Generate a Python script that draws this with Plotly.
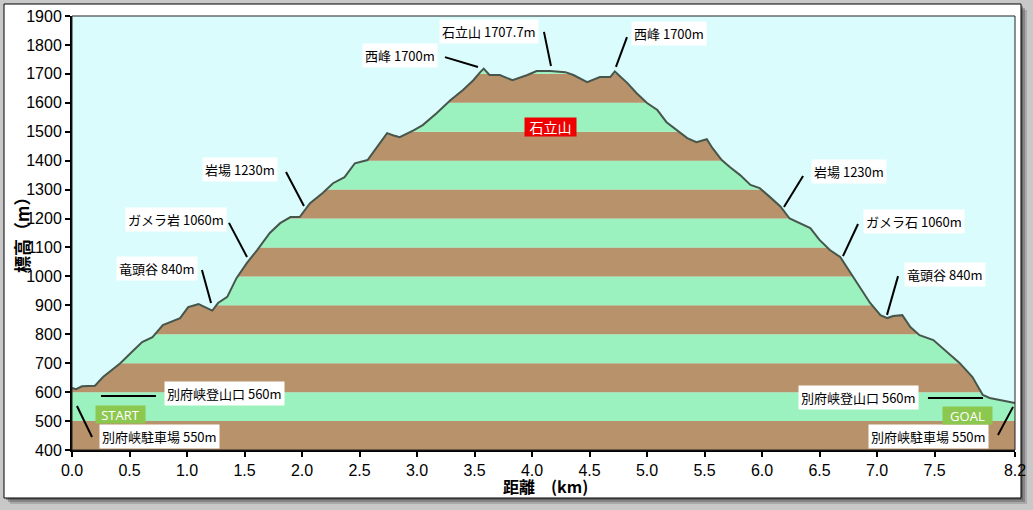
import plotly.graph_objects as go

# ---------------- data ----------------
dist_km = [0.00, 0.035, 0.087, 0.20, 0.27, 0.42, 0.52, 0.61, 0.70, 0.79, 0.94, 1.01, 1.10, 1.16, 1.22,
           1.27, 1.35, 1.43, 1.52, 1.61, 1.72, 1.81, 1.90, 1.98, 2.07, 2.18, 2.27, 2.37, 2.46, 2.57,
           2.65, 2.74, 2.79, 2.85, 2.97, 3.05, 3.17, 3.29, 3.40, 3.49, 3.55, 3.58, 3.63, 3.72, 3.83,
           3.96, 4.04, 4.16, 4.29, 4.36, 4.48, 4.59, 4.68, 4.72, 4.83, 4.91, 5.00, 5.09, 5.17, 5.26,
           5.35, 5.43, 5.52, 5.57, 5.65, 5.72, 5.81, 5.90, 5.98, 6.07, 6.16, 6.24, 6.33, 6.42, 6.50,
           6.59, 6.68, 6.77, 6.85, 6.94, 7.03, 7.09, 7.14, 7.22, 7.29, 7.37, 7.49, 7.61, 7.72, 7.83,
           7.92, 7.98, 8.13, 8.20]
elev_m = [614, 610, 620, 622, 652, 700, 739, 773, 790, 832, 856, 894, 904, 894, 882,
          908, 929, 994, 1046, 1091, 1150, 1184, 1205, 1205, 1253, 1288, 1322, 1343, 1391, 1402,
          1447, 1495, 1488, 1481, 1505, 1523, 1564, 1609, 1644, 1678, 1706, 1718, 1696, 1696, 1678,
          1696, 1710, 1710, 1706, 1696, 1671, 1689, 1689, 1708, 1668, 1633, 1599, 1575, 1533, 1505,
          1478, 1464, 1474, 1443, 1402, 1378, 1350, 1316, 1305, 1274, 1242, 1200, 1184, 1167, 1126,
          1091, 1067, 1012, 963, 908, 866, 856, 863, 866, 825, 797, 780, 739, 700, 652,
          590, 580, 566, 562]

x_ticks = [0.0, 0.5, 1.0, 1.5, 2.0, 2.5, 3.0, 3.5, 4.0, 4.5, 5.0, 5.5, 6.0, 6.5, 7.0, 7.5, 8.2]
x_tick_labels = ["0.0", "0.5", "1.0", "1.5", "2.0", "2.5", "3.0", "3.5", "4.0", "4.5", "5.0",
                 "5.5", "6.0", "6.5", "7.0", "7.5", "8.2"]
y_ticks = list(range(400, 2000, 100))
x_title = "距離　(km)"
y_title = "標高（m）"

# point labels: text, box centre (km, m), leader line start/end (km, m)
label_texts = ["西峰 1700m", "石立山 1707.7m", "西峰 1700m", "岩場 1230m", "ガメラ岩 1060m",
               "竜頭谷 840m", "別府峡登山口 560m", "別府峡駐車場 550m",
               "岩場 1230m", "ガメラ石 1060m", "竜頭谷 840m", "別府峡登山口 560m", "別府峡駐車場 550m"]
label_x = [2.852, 3.626, 5.191, 1.461, 0.904, 0.739, 1.322, 0.757, 6.757, 7.322, 7.591, 6.843, 7.452]
label_y = [1762, 1848, 1838, 1368, 1195, 1029, 594, 448, 1361, 1191, 1008, 583, 448]
lead_x0 = [3.243, 4.104, 4.826, 1.861, 1.365, 1.130, 0.252, 0.174, 6.357, 6.835, 7.183, 7.443, 8.052]
lead_y0 = [1758, 1845, 1827, 1361, 1185, 1022, 587, 445, 1347, 1181, 1001, 580, 452]
lead_x1 = [3.530, 4.165, 4.730, 2.017, 1.522, 1.209, 0.730, 0.043, 6.191, 6.704, 7.087, 7.922, 8.183]
lead_y1 = [1724, 1727, 1724, 1243, 1067, 908, 587, 552, 1240, 1070, 867, 580, 549]

badge_texts = ["START", "GOAL"]
badge_x = [0.426, 7.783]
badge_y = [521, 518]
peak_name = "石立山"
peak_name_x = 4.157
peak_name_y = 1517

X_MIN, X_MAX = 0.0, 8.2
Y_MIN, Y_MAX = 400, 1900

# ---------------- style ----------------
SKY = "#DAFCFC"
BROWN = "#B8926A"
GREEN = "#9CF2BE"
LINE = "#46564C"
JP = "Noto Sans CJK JP"

W, H = 1033, 510
ML, MR, MT, MB = 72, 18, 16, 60
pw, ph = W - ML - MR, H - MT - MB


def px_x(p):
    return (p - ML) / pw


def px_y(p):
    return (H - MB - p) / ph


fig = go.Figure()

# base for fill (invisible)
fig.add_trace(go.Scatter(x=dist_km, y=elev_m, mode="lines", line=dict(width=0),
                         hoverinfo="skip", showlegend=False))
# sky above the profile
fig.add_trace(go.Scatter(x=dist_km, y=[Y_MAX] * len(dist_km), mode="lines", line=dict(width=0),
                         fill="tonexty", fillcolor=SKY, hoverinfo="skip", showlegend=False))
# profile line
fig.add_trace(go.Scatter(x=dist_km, y=elev_m, mode="lines", line=dict(color=LINE, width=2),
                         showlegend=False))

shapes = []
# outer frame shadow & frame
for off, op in [(6, 0.22), (4, 0.32), (2, 0.42)]:
    shapes.append(dict(type="rect", xref="paper", yref="paper",
                       x0=px_x(4 + off), x1=px_x(1021 + off), y0=px_y(498 + off), y1=px_y(4 + off),
                       fillcolor="rgba(60,60,60,%s)" % op, line=dict(width=0), layer="below"))
shapes.append(dict(type="rect", xref="paper", yref="paper",
                   x0=px_x(4), x1=px_x(1021), y0=px_y(498), y1=px_y(4),
                   fillcolor="white", line=dict(color="black", width=1), layer="below"))
shapes.append(dict(type="rect", xref="paper", yref="paper", x0=0, x1=1, y0=0, y1=1,
                   fillcolor=SKY, line=dict(width=0), layer="below"))
# elevation stripes
for i, lo in enumerate(y_ticks[:-1]):
    shapes.append(dict(type="rect", xref="paper", yref="y", x0=0, x1=1, y0=lo, y1=lo + 100,
                       fillcolor=BROWN if i % 2 == 0 else GREEN, line=dict(width=0), layer="below"))
# plot border
shapes.append(dict(type="rect", xref="paper", yref="paper", x0=0, x1=1, y0=0, y1=1,
                   line=dict(color="#222222", width=1), layer="above"))
# leader lines
for a, b, c, d in zip(lead_x0, lead_y0, lead_x1, lead_y1):
    shapes.append(dict(type="line", xref="x", yref="y", x0=a, y0=b, x1=c, y1=d,
                       line=dict(color="black", width=2), layer="above"))

annotations = []
for t, x, y in zip(label_texts, label_x, label_y):
    annotations.append(dict(x=x, y=y, xref="x", yref="y", text=t, showarrow=False,
                            bgcolor="white", borderpad=2,
                            font=dict(family=JP, size=13, color="black")))
for t, x, y in zip(badge_texts, badge_x, badge_y):
    annotations.append(dict(x=x, y=y, xref="x", yref="y", text=t, showarrow=False,
                            bgcolor="#8CC850", width=47, height=15, borderpad=1,
                            font=dict(family="Open Sans", size=13, color="white")))
annotations.append(dict(x=peak_name_x, y=peak_name_y, xref="x", yref="y", text=peak_name,
                        showarrow=False, bgcolor="#EE0000", width=49, height=16, borderpad=1,
                        font=dict(family=JP, size=14, color="white")))
# axis titles
annotations.append(dict(x=px_x(545), y=px_y(486), xref="paper", yref="paper", text=x_title,
                        xanchor="center", yanchor="middle", showarrow=False,
                        font=dict(family=JP, size=16, color="black", weight="bold")))
annotations.append(dict(x=px_x(21), y=px_y(231), xref="paper", yref="paper", text=y_title,
                        xanchor="center", yanchor="middle", textangle=-90, showarrow=False,
                        font=dict(family=JP, size=17, color="black", weight="bold")))

fig.update_layout(
    width=W, height=H,
    margin=dict(l=ML, r=MR, t=MT, b=MB, pad=0, autoexpand=False),
    paper_bgcolor="#C8C8C8",
    plot_bgcolor=SKY,
    shapes=shapes,
    annotations=annotations,
    showlegend=False,
    xaxis=dict(range=[X_MIN, X_MAX], tickvals=x_ticks, ticktext=x_tick_labels, automargin=False,
               showgrid=False, zeroline=False, showline=True, linecolor="black", linewidth=2,
               ticks="outside", ticklen=5, tickwidth=2, tickcolor="black",
               tickfont=dict(family="Liberation Sans", size=16, color="black")),
    yaxis=dict(range=[Y_MIN, Y_MAX], tickvals=y_ticks, automargin=False,
               showgrid=False, zeroline=False, showline=True, linecolor="black", linewidth=2,
               ticks="outside", ticklen=5, tickwidth=2, tickcolor="black",
               tickfont=dict(family="Liberation Sans", size=16, color="black")),
)

fig.write_html("out.html", config={"displayModeBar": False},
               post_script="document.body.style.margin='0';document.body.style.background='#C8C8C8';")
